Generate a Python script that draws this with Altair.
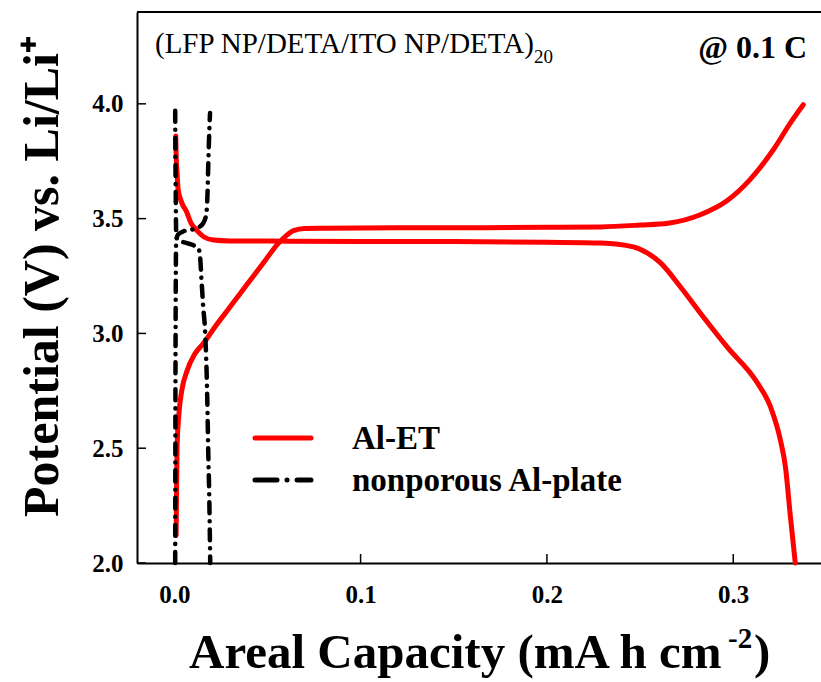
import altair as alt
import pandas as pd

# ---- data ----
# Al-ET, charge curve
alet_chg_cap = [0.001, 0.0012, 0.0015, 0.0025, 0.004, 0.007, 0.011, 0.016, 0.022, 0.029, 0.035,
                0.042, 0.049, 0.055, 0.060, 0.064, 0.070, 0.08, 0.12, 0.16, 0.2, 0.229, 0.25, 0.265,
                0.282, 0.297, 0.309, 0.3215, 0.3307, 0.3376]
alet_chg_pot = [2.12, 2.30, 2.50, 2.65, 2.75, 2.84, 2.91, 2.96, 3.03, 3.105, 3.17,
                3.245, 3.32, 3.385, 3.425, 3.448, 3.457, 3.458, 3.46, 3.46, 3.462, 3.464, 3.472, 3.48,
                3.516, 3.58, 3.67, 3.80, 3.917, 3.996]
# Al-ET, discharge curve
alet_dis_cap = [0.0008, 0.001, 0.0015, 0.0021, 0.004, 0.0066, 0.009, 0.012, 0.016, 0.021, 0.03,
                0.05, 0.1, 0.15, 0.2, 0.229, 0.2464, 0.254, 0.261, 0.2716, 0.2823, 0.2968,
                0.313, 0.32, 0.3253, 0.328, 0.3307, 0.3333]
alet_dis_pot = [3.86, 3.78, 3.70, 3.625, 3.57, 3.53, 3.48, 3.45, 3.42, 3.407, 3.403,
                3.402, 3.40, 3.40, 3.397, 3.394, 3.377, 3.35, 3.307, 3.203, 3.089, 2.94,
                2.784, 2.68, 2.536, 2.42, 2.20, 2.0]
# nonporous Al-plate, charge curve
plate_chg_cap = [0.0005, 0.0006, 0.0008, 0.001, 0.002, 0.005, 0.0095, 0.0125, 0.0155, 0.0172,
                 0.0178, 0.0183, 0.0188, 0.0192]
plate_chg_pot = [2.0, 2.6, 3.2, 3.40, 3.43, 3.445, 3.452, 3.46, 3.48, 3.52,
                 3.6, 3.75, 3.88, 3.96]
# nonporous Al-plate, discharge curve
plate_dis_cap = [0.0005, 0.0006, 0.0008, 0.001, 0.0015, 0.004, 0.0068, 0.010, 0.013, 0.0139,
                 0.0145, 0.0155, 0.0166, 0.0177, 0.0182, 0.0188, 0.0193]
plate_dis_pot = [3.97, 3.8, 3.6, 3.45, 3.41, 3.40, 3.393, 3.385, 3.37, 3.33,
                 3.25, 3.12, 3.0, 2.72, 2.5, 2.28, 2.0]

x_ticks = [0.0, 0.1, 0.2, 0.3]
y_ticks = [2.0, 2.5, 3.0, 3.5, 4.0]
legend_labels = ["Al-ET", "nonporous Al-plate"]
x_title = ["Areal Capacity (mA h cm", "-2", ")"]


def frame(xs, ys, series, seg):
    return pd.DataFrame({"cap": xs, "pot": ys, "series": series, "seg": seg,
                         "idx": list(range(len(xs)))})


red_df = pd.concat([frame(alet_chg_cap, alet_chg_pot, legend_labels[0], "charge"),
                    frame(alet_dis_cap, alet_dis_pot, legend_labels[0], "discharge")])
blk_df = pd.concat([frame(plate_chg_cap, plate_chg_pot, legend_labels[1], "charge"),
                    frame(plate_dis_cap, plate_dis_pot, legend_labels[1], "discharge")])

W, H = 684, 551
FONT = "Liberation Serif"
xsc = alt.Scale(domain=[-0.02, 0.3471], nice=False, zero=False)
ysc = alt.Scale(domain=[2.0, 4.4], nice=False, zero=False)

x_axis = alt.Axis(values=x_ticks, format=".1f", ticks=False, grid=False,
                  domainColor="black", domainWidth=2,
                  labelFont=FONT, labelFontWeight="bold", labelFontSize=25, labelColor="black",
                  labelPadding=19, labelFlush=False, labelOverlap=False)
y_axis = alt.Axis(values=y_ticks, format=".1f", ticks=False, grid=False,
                  domainColor="black", domainWidth=2,
                  labelFont=FONT, labelFontWeight="bold", labelFontSize=25, labelColor="black",
                  labelPadding=14, labelFlush=False, labelOverlap=False,
                  titleFont=FONT, titleFontWeight="bold", titleFontSize=50, titleColor="black",
                  titleX=-80, titleY=264, titleAngle=270, titleAlign="center",
                  titleBaseline="alphabetic")

red = alt.Chart(red_df).mark_line(color="#ff0000", strokeWidth=5, strokeCap="round",
                                  strokeJoin="round", interpolate="monotone").encode(
    x=alt.X("cap:Q", scale=xsc, axis=x_axis, title=None),
    y=alt.Y("pot:Q", scale=ysc, axis=y_axis, title="Potential (V) vs. Li/Li⁺"),
    detail="seg:N", order="idx:Q")

blk = alt.Chart(blk_df).mark_line(color="black", strokeWidth=4.5, strokeCap="round",
                                  strokeDash=[11, 8, 0.1, 8], interpolate="monotone").encode(
    x=alt.X("cap:Q", scale=xsc),
    y=alt.Y("pot:Q", scale=ysc),
    detail="seg:N", order="idx:Q")

# inward ticks
xt = alt.Chart(pd.DataFrame({"t": x_ticks})).mark_rule(color="black", strokeWidth=1.5).encode(
    x=alt.X("t:Q", scale=xsc), y=alt.value(H), y2=alt.value(H - 9))
yt = alt.Chart(pd.DataFrame({"t": y_ticks})).mark_rule(color="black", strokeWidth=1.5).encode(
    y=alt.Y("t:Q", scale=ysc), x=alt.value(0), x2=alt.value(9))

one = pd.DataFrame({"a": [0]})
top_line = alt.Chart(one).mark_rule(color="black", strokeWidth=2).encode(
    x=alt.value(0), x2=alt.value(W), y=alt.value(0))

# x-axis title with superscript
xt1 = alt.Chart(one).mark_text(text=x_title[0], font=FONT, fontSize=49, fontWeight="bold",
                               align="left", baseline="alphabetic", color="black").encode(
    x=alt.value(52), y=alt.value(656))
xt2 = alt.Chart(one).mark_text(text=x_title[1], font=FONT, fontSize=29, fontWeight="bold",
                               align="left", baseline="alphabetic", color="black").encode(
    x=alt.value(591), y=alt.value(636))
xt3 = alt.Chart(one).mark_text(text=x_title[2], font=FONT, fontSize=49, fontWeight="bold",
                               align="left", baseline="alphabetic", color="black").encode(
    x=alt.value(617), y=alt.value(656))

ann1 = alt.Chart(one).mark_text(text="(LFP NP/DETA/ITO NP/DETA)", font=FONT, fontSize=29,
                                align="left", baseline="alphabetic", color="black").encode(
    x=alt.value(18), y=alt.value(41))
ann1s = alt.Chart(one).mark_text(text="20", font=FONT, fontSize=19,
                                 align="left", baseline="alphabetic", color="black").encode(
    x=alt.value(397), y=alt.value(51))
ann2 = alt.Chart(one).mark_text(text="@ 0.1 C", font=FONT, fontSize=32, fontWeight="bold",
                                align="right", baseline="alphabetic", color="black").encode(
    x=alt.value(670), y=alt.value(46))

# legend
leg_red = alt.Chart(one).mark_rule(color="#ff0000", strokeWidth=5, strokeCap="round").encode(
    x=alt.value(118), x2=alt.value(174), y=alt.value(426))
leg_blk = alt.Chart(one).mark_rule(color="black", strokeWidth=5, strokeCap="round",
                                   strokeDash=[22, 10, 0.1, 10]).encode(
    x=alt.value(118), x2=alt.value(174), y=alt.value(468))
leg_t1 = alt.Chart(one).mark_text(text=legend_labels[0], font=FONT, fontSize=33, fontWeight="bold",
                                  align="left", baseline="alphabetic", color="black").encode(
    x=alt.value(215), y=alt.value(437))
leg_t2 = alt.Chart(one).mark_text(text=legend_labels[1], font=FONT, fontSize=33, fontWeight="bold",
                                  align="left", baseline="alphabetic", color="black").encode(
    x=alt.value(215), y=alt.value(479))

chart = alt.layer(red, blk, xt, yt, top_line, xt1, xt2, xt3, ann1, ann1s, ann2,
                  leg_red, leg_blk, leg_t1, leg_t2).properties(
    width=W, height=H,
    autosize=alt.AutoSizeParams(type="none"),
    padding={"left": 137, "top": 12, "right": 0, "bottom": 119},
    background="white",
).configure_view(stroke=None)

chart.save("out.html", embed_options={"renderer": "svg", "actions": False})
